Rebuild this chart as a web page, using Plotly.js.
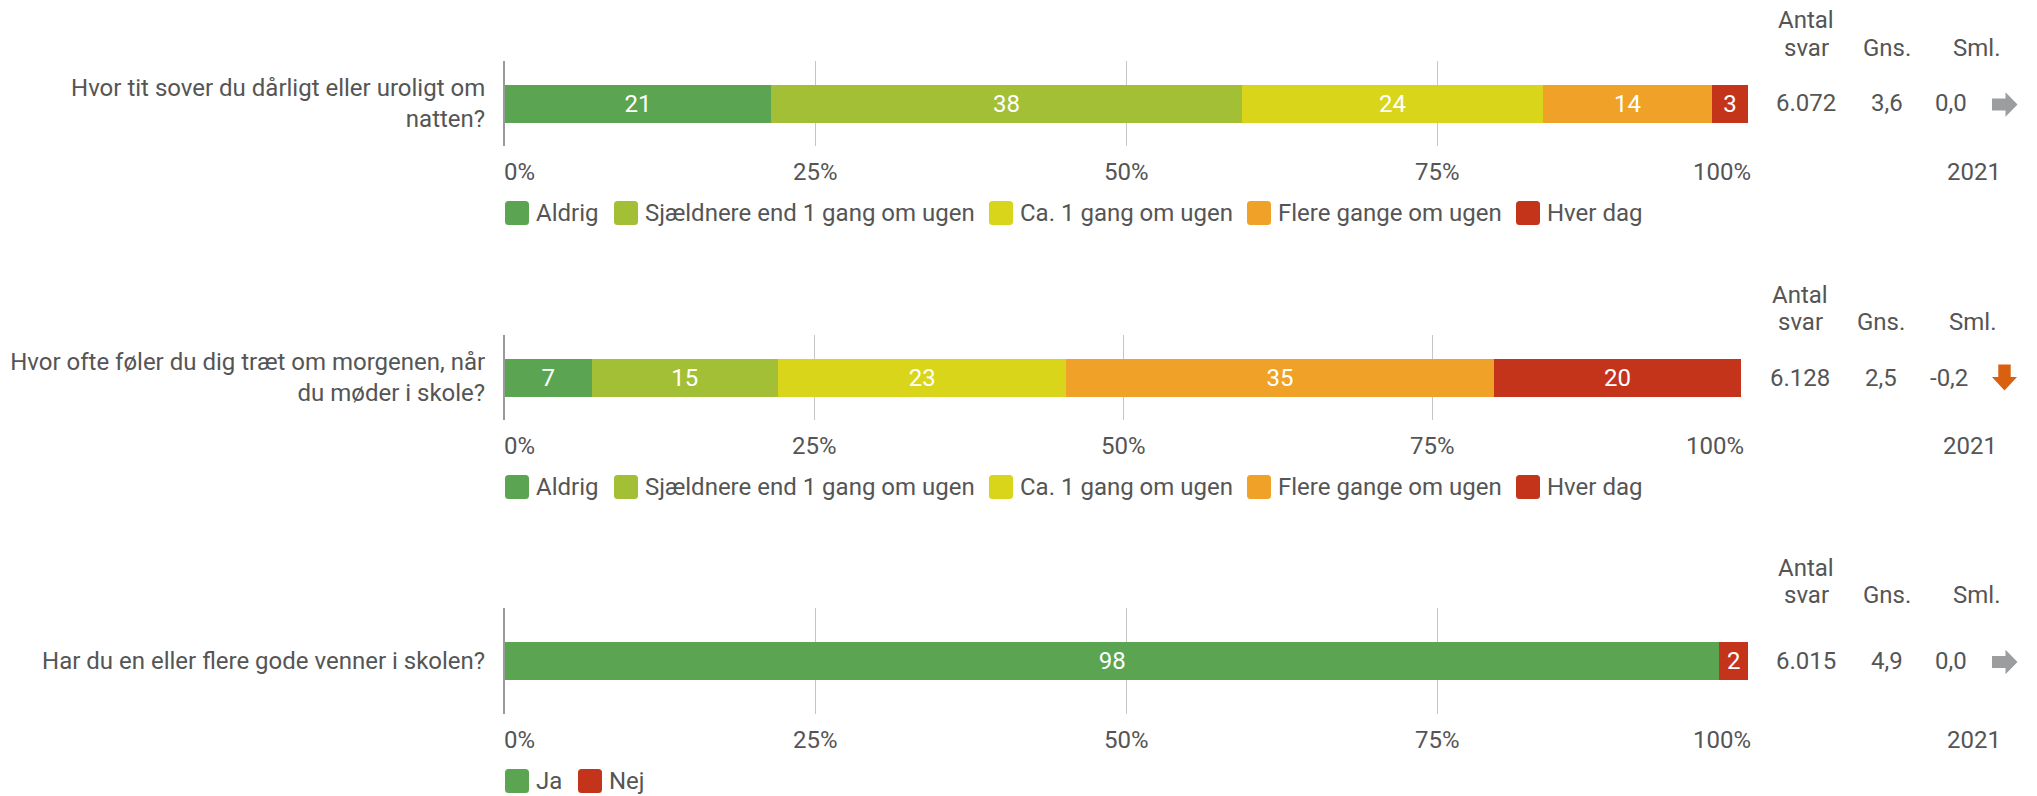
<!DOCTYPE html>
<html>
<head>
<meta charset="utf-8">
<script src="https://cdn.plot.ly/plotly-3.0.1.min.js"></script>
<style>html,body{margin:0;padding:0;background:#fff;}#chart{width:2037px;height:796px;}</style>
</head>
<body>
<div id="chart"></div>
<script>
// ---------------- DATA ----------------
const questions = [
  'Hvor tit sover du dårligt eller uroligt om<br>natten?',
  'Hvor ofte føler du dig træt om morgenen, når<br>du møder i skole?',
  'Har du en eller flere gode venner i skolen?'
];
const freqCategories = ['Aldrig', 'Sjældnere end 1 gang om ugen', 'Ca. 1 gang om ugen', 'Flere gange om ugen', 'Hver dag'];
const yesNoCategories = ['Ja', 'Nej'];
const q1Values = [21.4, 37.9, 24.2, 13.6, 2.9];
const q2Values = [7.0, 15.1, 23.3, 34.6, 20.0];
const q3Values = [97.7, 2.3];
const antalSvar = ['6.072', '6.128', '6.015'];
const gnsValues = ['3,6', '2,5', '4,9'];
const smlValues = ['0,0', '-0,2', '0,0'];
const trend = ['flat', 'down', 'flat'];
const compareYear = '2021';
const tickVals = [0, 25, 50, 75, 100];
const tickLabels = ['0%', '25%', '50%', '75%', '100%'];
const headerAntal = ['Antal', 'svar'], headerGns = 'Gns.', headerSml = 'Sml.';

// ---------------- STYLE ----------------
const W = 2037, H = 796;
const FONT = 'Roboto, sans-serif';
const FS = 24;
const TXT = '#555555';
const freqColors = ['#5ba552', '#a2bf35', '#d9d51a', '#f0a128', '#c4341a'];
const yesNoColors = ['#5ba552', '#c4341a'];
const px = x => x / W, py = y => 1 - y / H;

const panels = [
  {cats: freqCategories, vals: q1Values, colors: freqColors, xl: 505, xr: 1748, gt: 61, gb: 146,
   legX: [505, 614, 989, 1247, 1516], colAntal: 1806, colGns: 1887, colSml: 2002, colSmlVal: 1969, yearR: 2003},
  {cats: freqCategories, vals: q2Values, colors: freqColors, xl: 505, xr: 1741, gt: 335, gb: 420,
   legX: [505, 614, 989, 1247, 1516], colAntal: 1800, colGns: 1881, colSml: 1998, colSmlVal: 1970, yearR: 1999},
  {cats: yesNoCategories, vals: q3Values, colors: yesNoColors, xl: 505, xr: 1748, gt: 608, gb: 714,
   legX: [505, 578], colAntal: 1806, colGns: 1887, colSml: 2002, colSmlVal: 1969, yearR: 2003}
];
const BAR_PX = 38;

const traces = [];
const layout = {
  width: W, height: H,
  margin: {l: 0, r: 0, t: 0, b: 0},
  paper_bgcolor: '#fff', plot_bgcolor: 'rgba(0,0,0,0)',
  barmode: 'stack', showlegend: false,
  font: {family: FONT, color: TXT, size: FS},
  annotations: [], shapes: []
};

function ann(o) {
  layout.annotations.push(Object.assign({showarrow: false, xref: 'paper', yref: 'paper',
    font: {family: FONT, size: FS, color: TXT}}, o));
}
function roundRect(x, y, w, h, r) {
  const X = v => px(v).toFixed(6), Y = v => py(v).toFixed(6);
  return `M${X(x + r)},${Y(y)} L${X(x + w - r)},${Y(y)} Q${X(x + w)},${Y(y)} ${X(x + w)},${Y(y + r)} ` +
    `L${X(x + w)},${Y(y + h - r)} Q${X(x + w)},${Y(y + h)} ${X(x + w - r)},${Y(y + h)} ` +
    `L${X(x + r)},${Y(y + h)} Q${X(x)},${Y(y + h)} ${X(x)},${Y(y + h - r)} ` +
    `L${X(x)},${Y(y + r)} Q${X(x)},${Y(y)} ${X(x + r)},${Y(y)} Z`;
}
function poly(pts) {
  return 'M' + pts.map(p => px(p[0]).toFixed(6) + ',' + py(p[1]).toFixed(6)).join(' L') + ' Z';
}

panels.forEach((p, k) => {
  const n = k === 0 ? '' : String(k + 1);
  const xa = 'x' + n, ya = 'y' + n;
  const plotH = p.gb - p.gt;
  const cy = (p.gt + p.gb) / 2;
  p.cats.forEach((c, i) => {
    traces.push({
      type: 'bar', orientation: 'h', name: c,
      x: [p.vals[i]], y: [questions[k]],
      xaxis: xa, yaxis: ya,
      width: BAR_PX / plotH,
      marker: {color: p.colors[i], line: {width: 0}},
      texttemplate: '%{x:.0f}', textposition: 'inside', insidetextanchor: 'middle',
      constraintext: 'none',
      insidetextfont: {family: FONT, size: FS, color: '#ffffff'},
      hoverinfo: 'skip'
    });
  });
  layout['xaxis' + n] = {
    domain: [px(p.xl), px(p.xr)], anchor: ya, range: [0, 100],
    tickvals: tickVals, showticklabels: false, ticks: '',
    showgrid: true, gridcolor: '#c6c6c6', gridwidth: 1,
    zeroline: false, showline: false, fixedrange: true
  };
  layout['yaxis' + n] = {
    domain: [py(p.gb), py(p.gt)], anchor: xa, type: 'category', range: [-0.5, 0.5],
    showline: true, linecolor: '#9a9a9a', linewidth: 2, ticks: '', showgrid: false, zeroline: false,
    tickfont: {family: FONT, size: FS, color: TXT}, ticklabelstandoff: 13, automargin: false, fixedrange: true
  };
  // tick labels
  tickVals.forEach((v, i) => {
    const isFirst = i === 0, isLast = i === tickVals.length - 1;
    ann({xref: xa, x: v, y: py(p.gb + 26), yanchor: 'middle',
      xanchor: isFirst ? 'left' : (isLast ? 'right' : 'center'),
      xshift: isFirst ? -3 : (isLast ? 5 : 0), text: tickLabels[i]});
  });
  // year label
  ann({x: px(p.yearR), y: py(p.gb + 26), xanchor: 'right', yanchor: 'middle', text: compareYear});
  // headers
  ann({x: px(p.colAntal), y: py(p.gt - 40.5), xanchor: 'center', yanchor: 'middle', text: headerAntal[0]});
  ann({x: px(p.colAntal), y: py(p.gt - 13), xanchor: 'center', yanchor: 'middle', text: headerAntal[1]});
  ann({x: px(p.colGns), y: py(p.gt - 13), xanchor: 'center', yanchor: 'middle', text: headerGns});
  ann({x: px(p.colSml), y: py(p.gt - 13), xanchor: 'right', yanchor: 'middle', text: headerSml});
  // values
  ann({x: px(p.colAntal), yref: ya, y: questions[k], xanchor: 'center', yanchor: 'middle', text: antalSvar[k]});
  ann({x: px(p.colGns), yref: ya, y: questions[k], xanchor: 'center', yanchor: 'middle', text: gnsValues[k]});
  ann({x: px(p.colSmlVal), yref: ya, y: questions[k], xanchor: 'right', yanchor: 'middle', text: smlValues[k]});
  // trend arrow
  const ay = cy + 1;
  if (trend[k] === 'flat') {
    const x0 = 1992;
    layout.shapes.push({type: 'path', xref: 'paper', yref: 'paper', line: {width: 0}, fillcolor: '#9c9d9f',
      path: poly([[x0, ay - 6], [x0 + 13.5, ay - 6], [x0 + 13.5, ay - 12.3], [x0 + 25.5, ay],
                  [x0 + 13.5, ay + 12.3], [x0 + 13.5, ay + 6], [x0, ay + 6]])});
  } else if (trend[k] === 'down') {
    const cx = 2004.5, y0 = cy - 13;
    layout.shapes.push({type: 'path', xref: 'paper', yref: 'paper', line: {width: 0}, fillcolor: '#d9600f',
      path: poly([[cx - 6.2, y0], [cx + 6.2, y0], [cx + 6.2, y0 + 12.5], [cx + 12.5, y0 + 12.5],
                  [cx, y0 + 26], [cx - 12.5, y0 + 12.5], [cx - 6.2, y0 + 12.5]])});
  }
  // legend
  const ly = p.gb + 67;
  p.cats.forEach((c, i) => {
    const sx = p.legX[i];
    layout.shapes.push({type: 'path', xref: 'paper', yref: 'paper', line: {width: 0},
      fillcolor: p.colors[i], path: roundRect(sx, ly - 12, 24, 24, 3.5)});
    ann({x: px(sx + 29), y: py(ly), xanchor: 'left', yanchor: 'middle', text: c});
  });
});

Plotly.newPlot('chart', traces, layout, {displayModeBar: false, staticPlot: true});
</script>
</body>
</html>
